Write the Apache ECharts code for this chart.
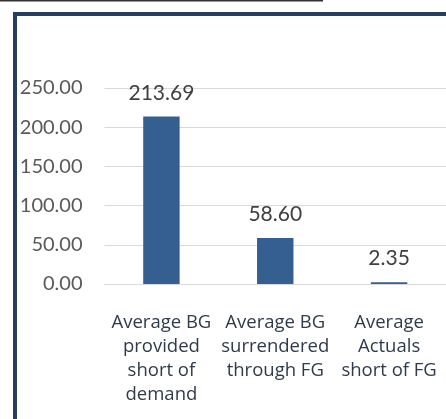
<!DOCTYPE html>
<html>
<head>
<meta charset="utf-8">
<script src="https://cdn.jsdelivr.net/npm/echarts@6/dist/echarts.min.js"></script>
<style>html,body{margin:0;padding:0;background:#fff;}#c{width:446px;height:419px;}</style>
</head>
<body>
<div id="c"></div>
<script>
var categories = ["Average BG\nprovided\nshort of\ndemand", "Average BG\nsurrendered\nthrough FG", "Average\nActuals\nshort of FG"];
var values = [213.69, 58.60, 2.35];
var yTicks = [0, 50, 100, 150, 200, 250];

var chart = echarts.init(document.getElementById('c'), null, {renderer: 'canvas'});
chart.setOption({
  backgroundColor: '#ffffff',
  animation: false,
  grid: {left: 104.5, top: 88, height: 196, width: 352.5, containLabel: false},
  xAxis: {
    type: 'category',
    data: categories,
    axisLine: {show: true, lineStyle: {color: '#d9d9d9', width: 1}},
    axisTick: {show: false},
    axisLabel: {interval: 0, margin: 27, fontFamily: 'Open Sans', fontSize: 18.5, lineHeight: 24, color: '#2f3b4a', align: 'center'}
  },
  yAxis: {
    type: 'value',
    min: yTicks[0], max: yTicks[yTicks.length - 1], interval: 50,
    axisLine: {show: false},
    axisTick: {show: false},
    splitLine: {lineStyle: {color: '#d9d9d9', width: 1}},
    axisLabel: {margin: 22, fontFamily: 'Lato', fontSize: 20, color: '#595959',
      formatter: function (v) { return v.toFixed(2); }}
  },
  series: [{
    type: 'bar',
    data: values,
    barWidth: '32%',
    itemStyle: {color: '#355f91'},
    label: {show: true, position: 'top', distance: 13, fontFamily: 'Lato', fontSize: 21, color: '#404040',
      formatter: function (p) { return p.value.toFixed(2); }}
  }],
  graphic: [
    {type: 'line', shape: {x1: 0, y1: 0.5, x2: 323, y2: 0.5}, style: {stroke: '#333333', lineWidth: 2}},
    {type: 'rect', shape: {x: 15, y: 14, width: 500, height: 500}, style: {fill: null, stroke: '#243f60', lineWidth: 4}}
  ]
});
</script>
</body>
</html>
